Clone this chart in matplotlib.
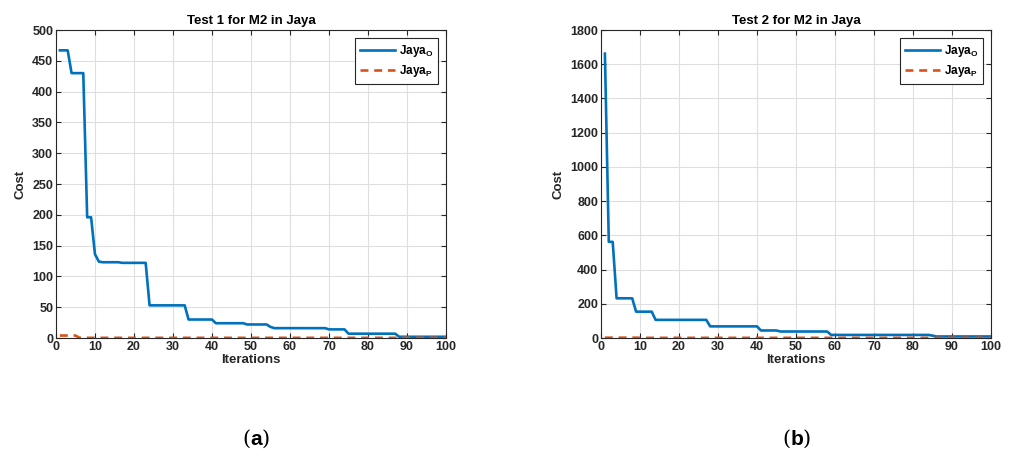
import numpy as np
import matplotlib
matplotlib.use("Agg")
import matplotlib.pyplot as plt

plt.rcParams['font.family'] = ['Liberation Sans', 'DejaVu Sans']
plt.rcParams['font.weight'] = 'bold'
plt.rcParams['mathtext.fontset'] = 'custom'
plt.rcParams['mathtext.rm'] = 'Liberation Sans:bold'
plt.rcParams['mathtext.bf'] = 'Liberation Sans:bold'
plt.rcParams['mathtext.it'] = 'Liberation Sans:bold'

# iteration 1..100
iters = np.arange(1, 101)

# Test 1: Jaya_O as (start iteration, value) steps
t1_steps = [(1, 467), (4, 430), (8, 196), (10, 136), (11, 124), (12, 123),
            (17, 122), (24, 53), (34, 30), (41, 24), (49, 22), (55, 18),
            (56, 16), (70, 14), (75, 7), (88, 2)]
t1_p_steps = [(1, 4), (6, 0.5), (8, 0.3)]

# Test 2
t2_steps = [(1, 1662), (2, 562), (4, 232), (9, 154), (14, 106), (28, 68),
            (41, 44), (46, 38), (59, 18), (85, 14), (86, 9)]
t2_p_steps = [(1, 2), (10, 1)]


def expand(steps):
    vals = np.zeros(len(iters))
    for start, v in steps:
        vals[iters >= start] = v
    return vals


blue = '#0072BD'
orange = '#D95319'
txt = '#262626'

fig = plt.figure(figsize=(10.14, 4.59), dpi=100)
ax1 = fig.add_axes([0.0552, 0.2636, 0.3846, 0.671])
ax2 = fig.add_axes([0.5927, 0.2636, 0.3846, 0.671])

panels = [
    (ax1, t1_steps, t1_p_steps, 'Test 1 for M2 in Jaya', np.arange(0, 501, 50), 500),
    (ax2, t2_steps, t2_p_steps, 'Test 2 for M2 in Jaya', np.arange(0, 1801, 200), 1800),
]

for ax, s_o, s_p, title, yt, ymax in panels:
    ax.plot(iters, expand(s_o), color=blue, lw=1.9, label=r'Jaya$_{\mathrm{O}}$')
    ax.plot(iters, expand(s_p), color=orange, lw=1.9, ls=(0, (3.0, 2.2)),
            label=r'Jaya$_{\mathrm{P}}$')
    ax.set_xlim(0, 100)
    ax.set_ylim(0, ymax)
    ax.set_xticks(np.arange(0, 101, 10))
    ax.set_yticks(yt)
    ax.grid(True, color='#dfdfdf', lw=0.8)
    ax.set_axisbelow(True)
    ax.tick_params(direction='in', top=True, right=True, labelsize=9,
                   colors=txt, length=3.5, width=0.8, pad=2)
    for sp in ax.spines.values():
        sp.set_color(txt)
        sp.set_linewidth(0.8)
    ax.set_title(title, fontsize=9.5, fontweight='bold', pad=4)
    ax.set_xlabel('Iterations', fontsize=9.5, fontweight='bold', color=txt, labelpad=1)
    ax.set_ylabel('Cost', fontsize=9.5, fontweight='bold', color=txt, labelpad=4)
    leg = ax.legend(loc='upper right', fontsize=8.5, fancybox=False,
                    edgecolor=txt, framealpha=1, handlelength=3.0,
                    borderaxespad=0.7, handletextpad=0.3, labelspacing=0.35)
    leg.get_frame().set_linewidth(0.8)

fig.text(0.2525, 0.045, r'($\mathbf{a}$)', ha='center', va='center',
         fontsize=15, family='DejaVu Serif', fontweight='normal')
fig.text(0.786, 0.045, r'($\mathbf{b}$)', ha='center', va='center',
         fontsize=15, family='DejaVu Serif', fontweight='normal')

fig.savefig('out.png', dpi=100)
